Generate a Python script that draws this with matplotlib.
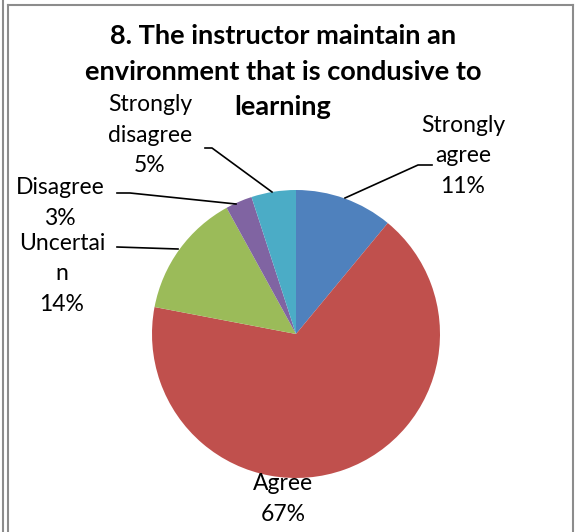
import matplotlib
matplotlib.use("Agg")
import matplotlib.pyplot as plt
from matplotlib.lines import Line2D

categories = ["Strongly agree", "Agree", "Uncertain", "Disagree", "Strongly disagree"]
label_texts = ["Strongly\nagree\n11%", "Agree\n67%", "Uncertai\nn\n14%", "Disagree\n3%", "Strongly\ndisagree\n5%"]
values = [11, 67, 14, 3, 5]
colors = ["#4F81BD", "#C0504D", "#9BBB59", "#8064A2", "#4BACC6"]
title_lines = ["8. The instructor maintain an", "environment that is condusive to", "learning"]

W, H = 579, 532
fig = plt.figure(figsize=(W / 100, H / 100), dpi=100)
ax = fig.add_axes([0, 0, 1, 1])

def py(y):
    return H - y

cx, cy, r = 296, py(334), 144
ax.pie(values, colors=colors, startangle=90, counterclock=False,
       center=(cx, cy), radius=r, frame=True,
       wedgeprops=dict(linewidth=0))
ax.set_xlim(0, W)
ax.set_ylim(0, H)
ax.axis("off")

font = "Lato"
for line, y in zip(title_lines, [36, 72, 107]):
    ax.text(283, py(y), line, ha="center", va="center", fontsize=19.5,
            fontweight="bold", family=font)

label_pos = [(463, 156), (283, 499), (62, 274), (60, 203), (150, 135)]
for txt, (x, y) in zip(label_texts, label_pos):
    ax.text(x, py(y), txt, ha="center", va="center", fontsize=16.5,
            family=font, linespacing=1.58)

leaders = [
    [(345, 198), (418, 165), (432, 165)],
    [(178, 249), (117, 247)],
    [(236, 204), (130, 193), (117, 193)],
    [(272, 192), (212, 148), (205, 148)],
]
for pts in leaders:
    xs = [p[0] for p in pts]
    ys = [py(p[1]) for p in pts]
    ax.add_line(Line2D(xs, ys, color="black", lw=1.2))

# chart frame
gray = "#8c8c8c"
ax.add_line(Line2D([2.5, 2.5], [0, H], color=gray, lw=1.5))
ax.add_line(Line2D([7.5, 7.5], [0, py(5)], color=gray, lw=1.5))
ax.add_line(Line2D([7.5, 572.5], [py(5), py(5)], color=gray, lw=1.5))
ax.add_line(Line2D([572.5, 572.5], [0, py(5)], color=gray, lw=1.5))

fig.savefig("out.png", dpi=100)
